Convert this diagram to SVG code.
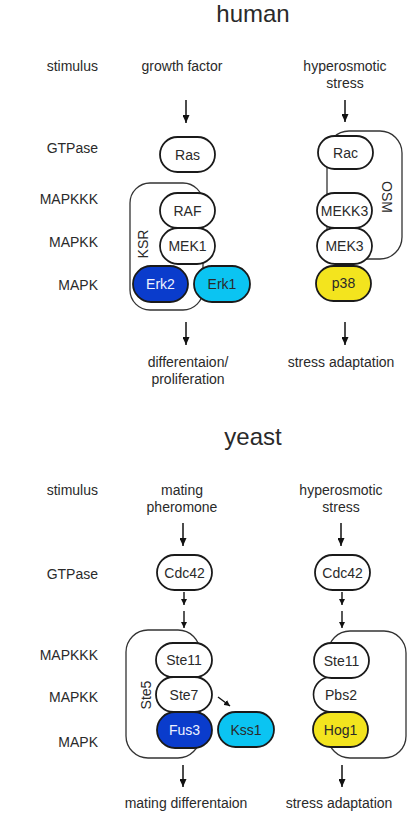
<svg xmlns="http://www.w3.org/2000/svg" width="411" height="824" viewBox="0 0 411 824">
<defs>
<style>
text{font-family:"Liberation Sans",Arial,sans-serif;fill:#2a2a2a}
.t{font-size:24px;text-anchor:middle}
.r{font-size:14px;text-anchor:end}
.c{font-size:14px;text-anchor:middle}
.n{fill:#fff;stroke:#1a1a1a;stroke-width:1.8}
.s{fill:#fff;stroke:#333;stroke-width:1.3}
.db{fill:#0a3ccc;stroke:#1a1a1a;stroke-width:1.8}
.cy{fill:#0bc4f2;stroke:#1a1a1a;stroke-width:1.8}
.ye{fill:#f3e41e;stroke:#1a1a1a;stroke-width:1.8}
.wt{fill:#eef2ff}
.a{stroke:#111;stroke-width:1.5;fill:none;marker-end:url(#ah)}
.a2{stroke:#111;stroke-width:1.4;fill:none;marker-end:url(#ah2)}
</style>
<marker id="ah" markerUnits="userSpaceOnUse" markerWidth="8" markerHeight="7" refX="8" refY="3.5" orient="auto"><path d="M0,0 L8,3.5 L0,7 Z" fill="#111"/></marker>
<marker id="ah2" markerUnits="userSpaceOnUse" markerWidth="6" markerHeight="6" refX="6" refY="3" orient="auto"><path d="M0,0 L6,3 L0,6 Z" fill="#111"/></marker>
</defs>
<rect width="411" height="824" fill="#fff"/>

<text class="t" x="253" y="22">human</text>
<text class="t" x="253" y="445">yeast</text>

<g id="row-labels">
<text class="r" x="98" y="71">stimulus</text>
<text class="r" x="98" y="153">GTPase</text>
<text class="r" x="98" y="204">MAPKKK</text>
<text class="r" x="98" y="247">MAPKK</text>
<text class="r" x="98" y="290">MAPK</text>
<text class="r" x="98" y="495">stimulus</text>
<text class="r" x="98" y="579">GTPase</text>
<text class="r" x="98" y="660">MAPKKK</text>
<text class="r" x="98" y="702">MAPKK</text>
<text class="r" x="98" y="747">MAPK</text>
</g>

<g id="labels">
<text class="c" x="182" y="71">growth factor</text>
<text class="c" x="345" y="71">hyperosmotic</text>
<text class="c" x="345" y="88">stress</text>
<text class="c" x="188" y="367">differentaion/</text>
<text class="c" x="188" y="384">proliferation</text>
<text class="c" x="341" y="367">stress adaptation</text>
<text class="c" x="182" y="495">mating</text>
<text class="c" x="182" y="512">pheromone</text>
<text class="c" x="341" y="495">hyperosmotic</text>
<text class="c" x="341" y="512">stress</text>
<text class="c" x="186" y="808">mating differentaion</text>
<text class="c" x="339" y="808">stress adaptation</text>
</g>

<g id="connectors">
<line class="a" x1="186" y1="100" x2="186" y2="123"/>
<line class="a" x1="345" y1="100" x2="345" y2="122"/>
<line class="a" x1="186" y1="322" x2="186" y2="345"/>
<line class="a" x1="345" y1="322" x2="345" y2="345"/>
<line class="a" x1="183" y1="523" x2="183" y2="546"/>
<line class="a" x1="341" y1="523" x2="341" y2="546"/>
<line class="a2" x1="184" y1="592" x2="184" y2="605"/>
<line class="a2" x1="184" y1="611" x2="184" y2="628"/>
<line class="a2" x1="342" y1="592" x2="342" y2="605"/>
<line class="a2" x1="342" y1="611" x2="342" y2="628"/>
<line class="a2" x1="218" y1="697" x2="230" y2="706"/>
<line class="a" x1="183" y1="765" x2="183" y2="787"/>
<line class="a" x1="342" y1="765" x2="342" y2="787"/>
</g>

<g id="KSR">
<rect class="s" x="130" y="183" width="73" height="127" rx="20"/>
<text class="c" transform="translate(148,244) rotate(-90)">KSR</text>
</g>
<g id="OSM">
<rect class="s" x="327" y="131" width="75" height="128" rx="22"/>
<text class="c" transform="translate(382,197) rotate(90)">OSM</text>
</g>

<g id="Ras"><rect class="n" x="160" y="137" width="55" height="35" rx="17.5"/><text class="c" x="187.5" y="160">Ras</text></g>
<g id="RAF"><rect class="n" x="160" y="193" width="55" height="35" rx="17.5"/><text class="c" x="187.5" y="216">RAF</text></g>
<g id="MEK1"><rect class="n" x="160" y="228" width="55" height="36" rx="18"/><text class="c" x="187.5" y="251">MEK1</text></g>
<g id="Erk2"><rect class="db" x="133" y="266" width="55" height="36" rx="18"/><text class="c wt" x="160.5" y="289">Erk2</text></g>
<g id="Erk1"><rect class="cy" x="194" y="266" width="56" height="36" rx="18"/><text class="c" x="222" y="289">Erk1</text></g>

<g id="Rac"><rect class="n" x="318" y="136" width="55" height="33" rx="16.5"/><text class="c" x="345.5" y="158">Rac</text></g>
<g id="MEKK3"><rect class="n" x="317" y="193" width="55" height="35" rx="17.5"/><text class="c" x="344.5" y="216">MEKK3</text></g>
<g id="MEK3"><rect class="n" x="317" y="228" width="55" height="36" rx="18"/><text class="c" x="344.5" y="251">MEK3</text></g>
<g id="p38"><rect class="ye" x="316" y="266" width="55" height="35" rx="17.5"/><text class="c" x="343.5" y="288">p38</text></g>

<g id="Ste5">
<rect class="s" x="126" y="630" width="74" height="128" rx="22"/>
<text class="c" transform="translate(151,695) rotate(-90)">Ste5</text>
</g>
<g id="Cdc42-mating"><rect class="n" x="157" y="555" width="55" height="35" rx="17.5"/><text class="c" x="184.5" y="578">Cdc42</text></g>
<g id="Ste11-mating"><rect class="n" x="156" y="643" width="56" height="34" rx="17"/><text class="c" x="184" y="665">Ste11</text></g>
<g id="Ste7"><rect class="n" x="156" y="677" width="56" height="35" rx="17.5"/><text class="c" x="184" y="700">Ste7</text></g>
<g id="Fus3"><rect class="db" x="157" y="712" width="55" height="36" rx="18"/><text class="c wt" x="184.5" y="735">Fus3</text></g>
<g id="Kss1"><rect class="cy" x="218" y="712" width="56" height="35" rx="17.5"/><text class="c" x="246" y="735">Kss1</text></g>

<g id="Pbs2-scaffold">
<rect class="s" x="328" y="631" width="78" height="127" rx="22"/>
<rect x="313" y="677" width="40" height="35" rx="17.5" fill="#fff"/>
<path d="M331,677 A17.5,17.5 0 0 0 331,712" fill="none" stroke="#1a1a1a" stroke-width="1.6"/>
<text class="c" x="341" y="700">Pbs2</text>
</g>
<g id="Cdc42-osmo"><rect class="n" x="315" y="555" width="55" height="35" rx="17.5"/><text class="c" x="342.5" y="578">Cdc42</text></g>
<g id="Ste11-osmo"><rect class="n" x="314" y="643" width="55" height="35" rx="17.5"/><text class="c" x="341.5" y="666">Ste11</text></g>
<g id="Hog1"><rect class="ye" x="313" y="712" width="55" height="35" rx="17.5"/><text class="c" x="340.5" y="735">Hog1</text></g>
</svg>
